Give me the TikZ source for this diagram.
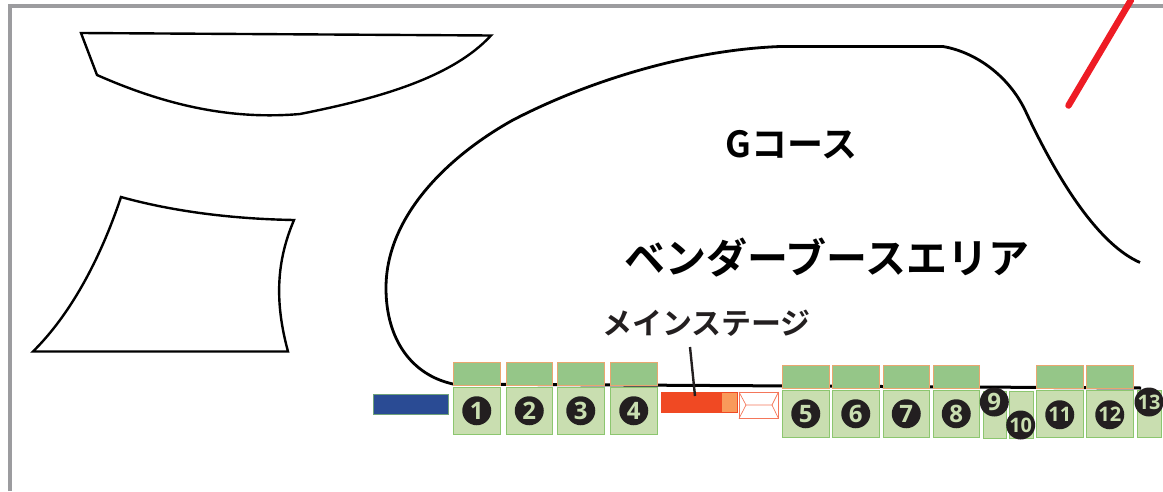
\documentclass[tikz,border=0pt]{standalone}
\usepackage{fontspec}
\setmainfont{Noto Sans CJK JP}[BoldFont={* Bold}]
\newfontfamily\numfont{Open Sans}[BoldFont={* Bold}]
\definecolor{topgreen}{HTML}{95C688}
\definecolor{topedge}{HTML}{E9A66F}
\definecolor{lowgreen}{HTML}{C9DEB0}
\definecolor{lowedge}{HTML}{8CC66F}
\definecolor{numdark}{HTML}{231F20}
\definecolor{stagered}{HTML}{F04923}
\definecolor{stageorange}{HTML}{F99A5B}
\definecolor{barblue}{HTML}{2A4B94}
\definecolor{slashred}{HTML}{EE1C25}
\definecolor{framegray}{HTML}{9C9C9F}
\tikzset{
  rectbase/.style={rectangle,inner sep=0pt,outer sep=0pt,anchor=north west},
  topbox/.style={rectbase,draw=topedge,fill=topgreen,line width=1pt,minimum width=46.5pt,minimum height=23.5pt},
  lowbox/.style={rectbase,draw=lowedge,fill=lowgreen,line width=1pt,minimum width=46.5pt,minimum height=46.5pt},
  narrowbox/.style={rectbase,draw=lowedge,fill=lowgreen,line width=1pt,minimum width=23.5pt,minimum height=46.5pt},
  numdot/.style={circle,fill=numdark,text=lowgreen,inner sep=0pt,outer sep=0pt,minimum size=29pt,font=\numfont\bfseries\fontsize{24}{24}\selectfont},
  numdottight/.style={numdot,font=\numfont\bfseries\fontsize{20}{20}\selectfont},
  outline/.style={draw=black,line width=2.4pt,line join=miter},
  bigtext/.style={inner sep=0pt,text=black,font=\bfseries\fontsize{41}{41}\selectfont},
}
\begin{document}
\begin{tikzpicture}[x=1pt,y=-1pt]
\useasboundingbox (0,0) rectangle (1163,491);
% frame
\draw[framegray,line width=4pt] (10,491) -- (10,6) -- (1163,6);
% red stroke
\coordinate (slashA) at (1068.5,105.5);
\coordinate (slashB) at (1131,0);
\draw[slashred,line width=6.5pt,line cap=round] (slashA) -- (slashB);
% left shapes
\draw[outline] (81,33) -- (491,35.5)
  .. controls (450,80) and (370,100) .. (300,114)
  .. controls (230,120) and (165,105) .. (97,75) -- cycle;
\draw[outline] (121,197) .. controls (175,212) and (235,219) .. (294,220)
  .. controls (277,260) and (274,300) .. (288,351.5)
  -- (33,351.5) .. controls (70,315) and (100,260) .. (121,197) -- cycle;
% main course outline
\coordinate (courseL) at (453,384);
\coordinate (courseR) at (1141,388);
\draw[outline,line width=2.8pt] (1140,262.5)
  .. controls (1100,245) and (1060,185) .. (1025,110)
  .. controls (1008,75) and (975,52) .. (943,46.5)
  -- (780,46.5)
  .. controls (690,50) and (590,80) .. (513,120)
  .. controls (450,155) and (386,215) .. (386,288)
  .. controls (386,340) and (412,375) .. (courseL);
\draw[black,line width=3pt] (courseL) -- (courseR);
% titles
\node[bigtext,font=\bfseries\fontsize{36}{36}\selectfont] (gcourse) at (791.5,145) {Gコース};
\node[bigtext] (vendor) at (827,258) {ベンダーブースエリア};
\node[inner sep=0pt,text=numdark,font=\bfseries\fontsize{30}{30}\selectfont] (mainstage) at (706.5,323) {メインステージ};
% blue bar
\node[rectbase,draw=lowedge!70!barblue,fill=barblue,line width=1pt,minimum width=75pt,minimum height=20pt] (bluebar) at (373.5,394.5) {};
% stage
\node[rectbase,fill=stagered,minimum width=76pt,minimum height=21pt] (stage) at (661,391.5) {};
\node[rectbase,fill=stageorange,draw=stagered,line width=1pt,minimum width=16pt,minimum height=20pt] (stagepart) at (721,392) {};
\coordinate (leaderTop) at (690,347);
\coordinate (leaderEnd) at (695,396);
\draw[numdark,line width=2.4pt] (leaderTop) -- (leaderEnd);
% stage annex
\node[rectbase,draw=stagered!75,line width=.9pt,minimum width=39.5pt,minimum height=26.5pt] (annex) at (739,392) {};
\draw[stagered!75,line width=.7pt] (739,392) -- (746,405) -- (739,418.5)
  (778.5,392) -- (772,405) -- (778.5,418.5) (746,405) -- (772,405);
% booths with canopy
\foreach \nm/\x/\ty/\ly in {1/453.5/362/387.5,2/506/362/387.5,3/557.5/362.3/387.5,4/610.5/362.3/387.5,
  5/782.5/365/390.5,6/832.5/365/390.5,7/883/365/390.5,8/933/365/390.5,11/1036.5/365/390.5,12/1086.5/365/390.5}{
  \node[lowbox] (low\nm) at (\x,\ly) {};
  \node[topbox] (top\nm) at (\x,\ty) {};
}
\foreach \nm in {1,...,8}{
  \node[numdot] (num\nm) at (low\nm.center) {\nm};
}
\node[numdottight] (num11) at ([yshift=-1pt]low11.center) {11};
\node[numdottight] (num12) at ([yshift=-1pt]low12.center) {12};
% narrow booths
\node[narrowbox,minimum height=47.5pt] (low9) at (983,391) {};
\node[narrowbox,minimum height=47pt] (low10) at (1009.5,391.5) {};
\node[narrowbox] (low13) at (1137.5,390.5) {};
\node[numdot] (num9) at (994.3,402) {9};
\node[numdottight] (num10) at (1020.7,425) {10};
\node[numdottight] (num13) at (1149,402) {13};
\end{tikzpicture}
\end{document}
